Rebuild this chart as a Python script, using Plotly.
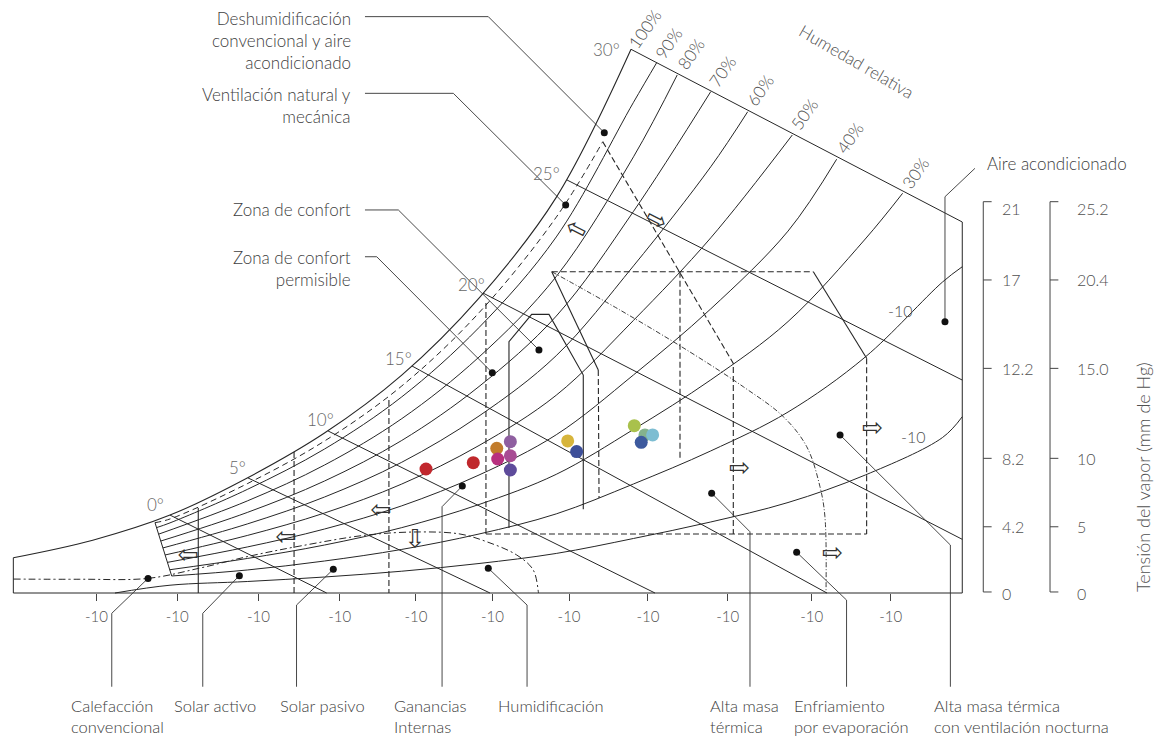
import plotly.graph_objects as go

# ---------------- chart values (x: dry-bulb temperature °C, y: vapour pressure mmHg) ----------------
# saturation curve (100 %)
sat_T = [-10.14, -5, 0, 5, 10, 15, 20, 25, 30, 35, 40, 45, 50, 51.3]
sat_P = [2.05, 3.07, 4.53, 6.69, 9.30, 12.67, 17.15, 23.0, 31.7, 41.3, 52.6, 68.6, 90.4, 96.6]
sat_end_T, sat_end_P = 29.84, 31.61

# relative-humidity curves: level, start and end points
rh_levels = [95, 90, 80, 70, 60, 50, 40, 30, 20, 10]
rh_start_T = [-0.97, -0.87, -0.74, -0.60, -0.46, -0.32, -0.17, -0.03, 0.11, -3.56]
rh_start_P = [4.09, 3.80, 3.42, 3.02, 2.62, 2.21, 1.78, 1.35, 0.99, 0.0]
rh_end_T = [28.01, 31.50, 32.83, 35.00, 37.39, 40.28, 43.15, 47.42, 51.28, 51.28]
rh_end_P = [26.24, 30.83, 30.12, 29.15, 27.98, 26.63, 25.22, 23.24, 18.97, 10.25]

rh_labels = ["100%", "90%", "80%", "70%", "60%", "50%", "40%", "30%"]
rh_label_T = [30.74, 32.25, 33.72, 35.75, 38.19, 41.10, 44.01, 48.22]
rh_label_P = [32.83, 31.96, 31.38, 30.31, 29.20, 27.85, 26.49, 24.40]
low_rh_labels = ["-10", "-10"]
low_rh_label_T = [47.25, 48.11]
low_rh_label_P = [16.45, 9.09]

# wet-bulb lines
wb_labels = ["0°", "5°", "10°", "15°", "20°", "25°", "30°"]
wb_label_T = [-0.97, 4.34, 9.71, 14.78, 19.53, 24.38, 28.27]
wb_label_P = [5.12, 7.27, 10.06, 13.65, 17.91, 24.40, 31.61]
wb_start_T = [0.0, 5.05, 10.23, 15.66, 20.26, 25.70, 29.84]
wb_start_P = [4.53, 6.69, 9.42, 13.20, 17.44, 24.01, 31.61]
wb_end_T = [10.14, 20.71, 31.39, 42.52, 51.28, 51.28, 51.28]
wb_end_P = [0.0, 0.0, 0.0, 0.0, 3.12, 12.38, 21.57]

# chart frame
frame_T = [-10.14, -10.14, 51.28, 51.28]
frame_P = [2.05, 0.0, 0.0, 21.57]
start_edge_T = [-0.97, 0.11]
start_edge_P = [4.09, 0.99]

# x-axis ticks (all labelled "-10" in the original)
tick_T = [-4.76, 0.47, 5.72, 10.99, 15.92, 20.87, 25.83, 30.93, 36.10, 41.53, 46.65]
tick_text = ["-10"] * len(tick_T)

# strategy zone boundaries
zone_solid = {
    "solar_activo": ([1.83, 1.83], [4.94, 0.0]),
    "confort": ([21.94, 21.94, 23.41, 24.53, 26.75, 26.75], [3.78, 14.61, 16.20, 16.20, 12.67, 4.87]),
    "permisible": ([24.71, 27.72], [18.68, 12.97]),
    "masa_diag": ([41.64, 45.09], [18.68, 13.65]),
}
zone_dashed = {
    "solar_pasivo": ([8.03, 8.03], [8.20, 0.0]),
    "ganancias": ([14.17, 14.17], [11.22, 0.0]),
    "permisible_izq": ([20.45, 20.45], [16.86, 3.43]),
    "base": ([20.45, 45.09], [3.43, 3.43]),
    "masa_top": ([24.71, 41.64], [18.68, 18.68]),
    "masa_der": ([45.09, 45.09], [13.65, 3.43]),
    "masa_mid": ([33.01, 33.01], [18.68, 7.73]),
    "permisible_der": ([27.72, 27.77], [12.97, 5.52]),
    "deshum": ([28.01, 36.25, 36.46, 36.46], [26.24, 13.74, 13.35, 3.43]),
}
evap_T = [24.71, 29.13, 33.66, 37.11, 39.70, 41.21, 42.07, 42.39, 42.46]
evap_P = [18.68, 16.45, 14.01, 11.99, 10.25, 8.51, 6.18, 4.44, 0.0]
heat_T = [-10.14, -5.83, -1.42, 1.94, 5.18, 8.41, 12.73, 16.18, 18.77, 20.50, 22.44, 23.51, 23.84, 23.85]
heat_P = [0.81, 0.80, 0.85, 1.45, 2.15, 2.73, 3.37, 3.55, 3.43, 2.98, 2.21, 1.34, 0.08, 0.0]

# direction arrows (all drawn with the same hollow-arrow glyph, rotated)
arrow_T = [31.50, 26.21, 13.59, 15.86, 7.51, 1.17, 36.89, 45.50, 42.91]
arrow_P = [21.69, 21.10, 4.83, 3.20, 3.26, 2.21, 7.27, 9.65, 2.33]
arrow_angle = [27, 207, 180, 90, 180, 180, 0, 0, 0]

# climate data points
pts_T = [16.57, 19.63, 21.15, 21.21, 22.03, 22.03, 22.03, 25.74, 26.32, 30.05, 30.74, 31.24, 30.50]
pts_P = [7.21, 7.58, 8.41, 7.79, 8.80, 7.98, 7.15, 8.84, 8.22, 9.73, 9.19, 9.19, 8.76]
pts_color = ["#c1272d", "#c0282c", "#c27c2c", "#b8307f", "#8f5fa0", "#a84c94", "#5e4b9b",
             "#d7b53c", "#3d4f99", "#a9c14c", "#84b28d", "#7dbdd2", "#3d5a9e"]

# leader lines (label side -> dot)
leaders = [
    ([12.62, 20.60, 28.11], [33.51, 33.51, 26.76]),
    ([12.62, 18.34, 25.61], [29.05, 29.05, 22.56]),
    ([12.62, 14.78, 23.88], [22.27, 22.27, 14.13]),
    ([12.62, 13.38, 20.86], [19.55, 19.55, 12.81]),
    ([52.10, 50.16, 50.16], [24.69, 23.04, 15.77]),
    ([-3.77, -3.77, -1.42], [-5.45, -1.18, 0.85]),
    ([2.12, 2.12, 4.49], [-5.45, -1.18, 1.01]),
    ([8.19, 8.19, 10.57], [-5.45, -0.70, 1.38]),
    ([17.61, 17.61, 18.92], [-5.45, 5.02, 6.22]),
    ([23.11, 23.11, 20.60], [-5.45, -0.70, 1.44]),
    ([37.54, 37.54, 35.06], [-5.45, 3.56, 5.80]),
    ([43.79, 43.79, 40.56], [-5.45, -0.41, 2.37]),
    ([50.51, 50.51, 43.37], [-5.45, 2.79, 9.19]),
]

# text labels
left_labels = ["Deshumidificación<br>convencional y aire<br>acondicionado",
               "Ventilación natural y<br>mecánica", "Zona de confort",
               "Zona de confort<br>permisible"]
left_label_P = [34.13, 29.71, 22.27, 20.23]
bottom_labels = ["Calefacción<br>convencional", "Solar activo", "Solar pasivo", "Ganancias<br>Internas",
                 "Humidificación", "Alta masa<br>térmica", "Enfriamiento<br>por evaporación",
                 "Alta masa térmica<br>con ventilación nocturna"]
bottom_label_T = [-6.54, 0.13, 6.99, 14.37, 21.10, 34.82, 40.26, 49.32]

# right-hand scales
scale1_text = ["21", "17", "12.2", "8.2", "4.2", "0"]
scale2_text = ["25.2", "20.4", "15.0", "10", "5", "0"]
scale_label_P = [22.37, 18.20, 13.06, 7.83, 3.85, 0.0]
scale_tick_P = [22.75, 18.20, 13.06, 7.83, 3.85, 0.06]
scale_bar_T = [52.64, 56.96]

# ---------------- figure ----------------
INK = "#262626"
TXT = "#404040"
FONT = "Lato, 'Open Sans', sans-serif"
fig = go.Figure()


def add_line(xs, ys, dash="solid", width=1.0, shape="linear", color=INK):
    fig.add_trace(go.Scatter(x=xs, y=ys, mode="lines", hoverinfo="skip",
                             line=dict(color=color, width=width, dash=dash, shape=shape)))


# saturation curve
xs = [t for t in sat_T if t < sat_end_T - 0.8] + [sat_end_T]
ys = [p for t, p in zip(sat_T, sat_P) if t < sat_end_T - 0.8] + [sat_end_P]
add_line(xs, ys, shape="spline", width=1.1)

# RH curves
for lev, t0, p0, t1, p1 in zip(rh_levels, rh_start_T, rh_start_P, rh_end_T, rh_end_P):
    xs, ys = [t0], [p0]
    for t, p in zip(sat_T, sat_P):
        if t0 + 0.8 < t < t1 - 0.8:
            xs.append(t)
            ys.append(p * lev / 100)
    xs.append(t1)
    ys.append(p1)
    add_line(xs, ys, dash="6px,4px" if lev == 95 else "solid", shape="spline")

# wet-bulb lines
for t0, p0, t1, p1 in zip(wb_start_T, wb_start_P, wb_end_T, wb_end_P):
    add_line([t0, t1], [p0, p1])

add_line(frame_T, frame_P)
add_line(start_edge_T, start_edge_P)

for xs, ys in zone_solid.values():
    add_line(xs, ys, width=1.1)
for xs, ys in zone_dashed.values():
    add_line(xs, ys, dash="6px,3px", width=1.1)
add_line(evap_T, evap_P, dash="5px,2px,1px,2px", width=0.9, shape="spline")
add_line(heat_T, heat_P, dash="7px,3px,2px,3px", width=1.0, shape="spline")

# leaders
lx, ly = [], []
for xs, ys in leaders:
    lx += xs + [None]
    ly += ys + [None]
add_line(lx, ly, width=0.9, color="#333333")
fig.add_trace(go.Scatter(x=[l[0][-1] for l in leaders], y=[l[1][-1] for l in leaders], mode="markers",
                         hoverinfo="skip", marker=dict(color="#111111", size=7)))

# right-hand scales
for bx in scale_bar_T:
    sx = [bx + 0.54, bx, bx, bx + 0.54]
    sy = [scale_tick_P[0], scale_tick_P[0], scale_tick_P[-1], scale_tick_P[-1]]
    for tp in scale_tick_P[1:-1]:
        sx += [None, bx, bx + 0.54]
        sy += [None, tp, tp]
    add_line(sx, sy, width=1.0, color="#444444")

# data points
fig.add_trace(go.Scatter(x=pts_T, y=pts_P, mode="markers", hoverinfo="skip",
                         marker=dict(color=pts_color, size=13, line=dict(width=0))))

ann = []


def text(x, y, s, size=17, color=TXT, xanchor="center", yanchor="middle", align="center", angle=0,
         family=FONT, weight=300):
    ann.append(dict(x=x, y=y, xref="x", yref="y", text=s, showarrow=False, xanchor=xanchor,
                    yanchor=yanchor, align=align, textangle=angle,
                    font=dict(family=family, size=size, color=color, weight=weight)))


for s, x, y in zip(rh_labels, rh_label_T, rh_label_P):
    text(x, y, s, size=17, color="#505050", angle=-55)
for s, x, y in zip(low_rh_labels, low_rh_label_T, low_rh_label_P):
    text(x, y, s, size=16, color="#505050")
for s, x, y in zip(wb_labels, wb_label_T, wb_label_P):
    text(x, y, s, size=17, color="#666666")
text(44.45, 30.89, "Humedad relativa", size=17, color="#505050", angle=30)

for s, y in zip(left_labels, left_label_P):
    text(11.83, y, s, xanchor="right", yanchor="top" if "<br>" in s else "middle", align="right")
for s, x in zip(bottom_labels, bottom_label_T):
    text(x, -5.85, s, size=16.5, xanchor="left", yanchor="top", align="left")
text(52.75, 25.0, "Aire acondicionado", xanchor="left")

for s, y in zip(scale1_text, scale_label_P):
    text(53.72, y, s, size=16, color="#505050", xanchor="left")
for s, y in zip(scale2_text, scale_label_P):
    text(58.58, y, s, size=16, color="#505050", xanchor="left")
text(62.98, 6.75, "Tensión del vapor (mm de Hg)", size=18, color="#505050", angle=-90)

for x, y, a in zip(arrow_T, arrow_P, arrow_angle):
    text(x, y, "⇨", size=25, color="#333333", angle=a, family="DejaVu Sans", weight=400)

fig.update_layout(
    width=1156, height=738, margin=dict(l=0, r=0, t=0, b=0),
    paper_bgcolor="white", plot_bgcolor="white", showlegend=False,
    annotations=ann,
    xaxis=dict(range=[-11.003, 63.819], tickvals=tick_T, ticktext=tick_text, ticks="outside",
               ticklen=7, tickcolor="#444444", tickwidth=1, showgrid=False, zeroline=False,
               showline=False, anchor="free", position=0.1965, ticklabelstandoff=3,
               tickfont=dict(family=FONT, size=15, color="#505050", weight=300), fixedrange=True),
    yaxis=dict(range=[-8.430, 34.477], visible=False, fixedrange=True),
)
fig.write_html("out.html", config={"displayModeBar": False},
               post_script="document.body.style.margin='0px';")
